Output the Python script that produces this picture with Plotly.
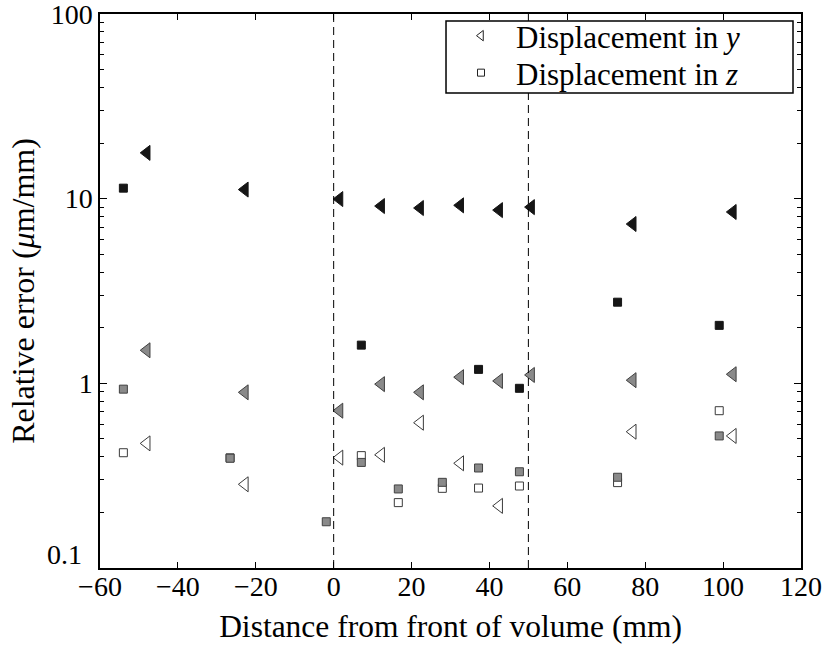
import math
import plotly.graph_objects as go

# Distance from the front of the volume (mm) at which each displacement was evaluated
y_pos = [-48.0, -22.8, 1.5, 12.2, 22.2, 32.5, 42.5, 50.7, 76.8, 102.5]
z_pos = [-54.0, -26.6, -1.9, 7.1, 16.6, 27.9, 37.2, 47.7, 72.9, 99.0]

# Relative error (um/mm), displacement in y: dark / mid / light markers
y_dark = [17.7, 11.2, 9.95, 9.12, 8.9, 9.2, 8.67, 9.0, 7.29, 8.47]
y_mid = [1.51, 0.894, 0.711, 0.99, 0.894, 1.08, 1.03, 1.11, 1.04, 1.12]
y_light = [0.473, 0.284, 0.396, 0.41, 0.612, 0.369, 0.217, None, 0.547, 0.519]

# Relative error (um/mm), displacement in z: dark / mid / light markers
z_dark = [11.4, None, None, 1.61, None, None, 1.19, 0.94, 2.75, 2.06]
z_mid = [0.93, 0.393, 0.178, 0.373, 0.268, 0.291, 0.348, 0.332, 0.31, 0.519]
z_light = [0.421, 0.395, None, 0.406, 0.226, 0.27, 0.271, 0.278, 0.29, 0.711]

# Boundaries of the volume
volume_bounds = [0, 50]

x_ticks = [-60, -40, -20, 0, 20, 40, 60, 80, 100, 120]
y_ticks = [0.1, 1, 10, 100]
y_tick_text = ["0.1", "1", "10", "100"]

FONT = "Liberation Serif"
TRI_SIZE = 13
SQ_SIZE = 8

styles = {
    "light": dict(color="white", line=dict(color="#3a3a3a", width=1)),
    "mid": dict(color="#8a8a8a", line=dict(color="#404040", width=1)),
    "dark": dict(color="#161616", line=dict(color="#161616", width=1)),
}

fig = go.Figure()

series = [
    ("light", z_pos, z_light, "square", SQ_SIZE),
    ("light", y_pos, y_light, "triangle-left", TRI_SIZE),
    ("mid", z_pos, z_mid, "square", SQ_SIZE),
    ("mid", y_pos, y_mid, "triangle-left", TRI_SIZE),
    ("dark", z_pos, z_dark, "square", SQ_SIZE),
    ("dark", y_pos, y_dark, "triangle-left", TRI_SIZE),
]
for shade, xs, ys, sym, size in series:
    fig.add_trace(go.Scatter(
        x=xs, y=ys, mode="markers", showlegend=False,
        marker=dict(symbol=sym, size=size, **styles[shade]),
    ))

# Legend entries (open markers), one row per legend so the rows sit close together
for name, sym, size, leg in [("Displacement in <i>y</i>", "triangle-left", 9, "legend"),
                             ("Displacement in <i>z</i>", "square", 7, "legend2")]:
    fig.add_trace(go.Scatter(
        x=[None], y=[None], mode="markers", name=name, legend=leg,
        marker=dict(symbol=sym, size=size, color="white",
                    line=dict(color="#222222", width=1)),
    ))

for xb in volume_bounds:
    fig.add_vline(x=xb, line=dict(color="black", width=1, dash="8px,5px"))

# Frame around the legend rows
fig.add_shape(type="rect", xref="paper", yref="paper",
              x0=0.4936, x1=0.9886, y0=0.8574, y1=0.9874,
              fillcolor="white", line=dict(color="black", width=1.5), layer="above")

legend_common = dict(
    xanchor="left", yanchor="middle", x=0.4936,
    bgcolor="rgba(0,0,0,0)", borderwidth=0,
    font=dict(family=FONT, size=31),
    itemsizing="trace", itemwidth=60,
)

# "0.1" label of the lowest decade, lifted clear of the x tick labels
fig.add_annotation(
    x=0, xref="paper", xanchor="right", xshift=-16,
    y=math.log10(y_ticks[0]), yref="y", yanchor="middle", yshift=14,
    text=y_tick_text[0], showarrow=False,
    font=dict(family=FONT, size=28, color="black"),
)

fig.update_layout(
    width=827, height=647,
    margin=dict(l=100, r=26, t=14, b=79, autoexpand=False),
    paper_bgcolor="white", plot_bgcolor="white",
    font=dict(family=FONT, size=28, color="black"),
    showlegend=True,
    legend=dict(y=0.9603, **legend_common),
    legend2=dict(y=0.8935, **legend_common),
    xaxis=dict(
        range=[-60, 120], tickvals=x_ticks,
        ticktext=[("\u2212" + str(-v)) if v < 0 else str(v) for v in x_ticks],
        showline=True, linecolor="black", linewidth=2, mirror="allticks",
        ticks="inside", ticklen=6, tickwidth=1, tickcolor="black",
        showgrid=False, zeroline=False, automargin=False,
        ticklabeloverflow="allow", ticklabelstandoff=-8,
        title=dict(text="Distance from front of volume (mm)",
                   font=dict(family=FONT, size=31.5), standoff=14),
        tickfont=dict(family=FONT, size=28),
    ),
    yaxis=dict(
        type="log", range=[-1.0, 2.0], tickvals=y_ticks,
        ticktext=[""] + y_tick_text[1:],
        showline=True, linecolor="black", linewidth=1.5, mirror="allticks",
        ticks="inside", ticklen=7, tickwidth=1, tickcolor="black",
        minor=dict(ticks="inside", ticklen=4, tickwidth=1, tickcolor="black",
                   dtick="D1", showgrid=False),
        showgrid=False, zeroline=False, automargin=False,
        ticklabeloverflow="allow",
        title=dict(text="Relative error (<i>\u03bc</i>m/mm)",
                   font=dict(family=FONT, size=32), standoff=6),
        tickfont=dict(family=FONT, size=28),
    ),
)

fig.write_html("out.html")
